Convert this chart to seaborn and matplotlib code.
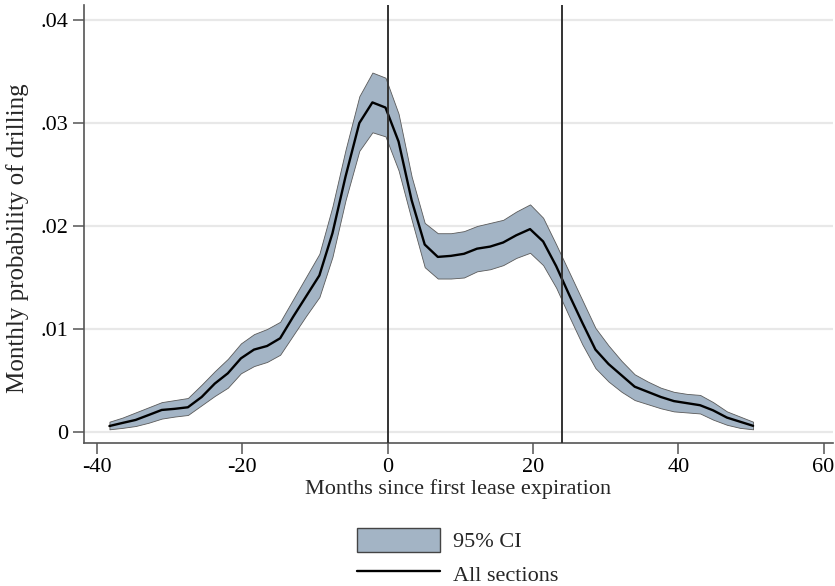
import matplotlib
matplotlib.use("Agg")
import matplotlib.pyplot as plt
import seaborn as sns
import pandas as pd
from matplotlib.patches import Patch
from matplotlib.lines import Line2D

# Months relative to first lease expiration (local polynomial grid points)
months = [-38.3, -36.5, -34.7, -32.9, -31.1, -29.3, -27.5, -25.6, -23.8, -22.0,
          -20.2, -18.4, -16.6, -14.8, -13.0, -11.2, -9.4, -7.6, -5.8, -3.9,
          -2.1, -0.3, 1.5, 3.3, 5.1, 6.9, 8.7, 10.5, 12.3, 14.1,
          15.9, 17.7, 19.6, 21.4, 23.2, 25.0, 26.8, 28.6, 30.4, 32.2,
          34.0, 35.8, 37.6, 39.4, 41.2, 43.0, 44.8, 46.7, 48.5, 50.3]

# Smoothed monthly probability of drilling, all sections
prob = [0.00058, 0.00088, 0.00117, 0.00165, 0.00214, 0.00225, 0.0024, 0.0034, 0.0047, 0.0057,
        0.00715, 0.0080, 0.00835, 0.0091, 0.0112, 0.0132, 0.0152, 0.0193, 0.0248, 0.0300,
        0.0320, 0.0315, 0.0282, 0.0225, 0.0182, 0.0170, 0.0171, 0.0173, 0.0178, 0.0180,
        0.0184, 0.0191, 0.0197, 0.0185, 0.0161, 0.0133, 0.0106, 0.0080, 0.0066, 0.0055,
        0.0044, 0.0039, 0.0034, 0.0030, 0.0028, 0.0026, 0.0021, 0.0014, 0.0010, 0.0006]

# 95% confidence interval bounds
ci_upper = [0.0010, 0.0014, 0.0019, 0.0024, 0.0029, 0.0031, 0.0033, 0.0046, 0.0059, 0.0071,
            0.0086, 0.0095, 0.0100, 0.0107, 0.0129, 0.0151, 0.0173, 0.0219, 0.0274, 0.0326,
            0.0349, 0.0344, 0.0309, 0.0248, 0.0203, 0.0193, 0.0193, 0.0195, 0.0200, 0.0203,
            0.0206, 0.0214, 0.0221, 0.0208, 0.0182, 0.0155, 0.0128, 0.0101, 0.0084, 0.0069,
            0.0056, 0.0049, 0.0043, 0.0039, 0.0037, 0.0036, 0.0029, 0.0020, 0.0015, 0.0010]
ci_lower = [0.00026, 0.0004, 0.00058, 0.0009, 0.0013, 0.0015, 0.00165, 0.0026, 0.0035, 0.0043,
            0.0057, 0.0064, 0.0068, 0.0075, 0.0094, 0.0113, 0.0131, 0.0170, 0.0225, 0.0273,
            0.0291, 0.0287, 0.0254, 0.0206, 0.0160, 0.0149, 0.0149, 0.0150, 0.0156, 0.0158,
            0.0162, 0.0169, 0.0174, 0.0162, 0.0140, 0.0112, 0.0085, 0.0062, 0.0049, 0.0039,
            0.0031, 0.0027, 0.0023, 0.0020, 0.0019, 0.0018, 0.0012, 0.0007, 0.0004, 0.00026]

# Reference lines: first lease expiration and two years later
ref_months = [0, 24]

x_ticks = [-40, -20, 0, 20, 40, 60]
y_ticks = [0, 0.01, 0.02, 0.03, 0.04]
y_tick_labels = ["0", ".01", ".02", ".03", ".04"]

df = pd.DataFrame({"month": months, "prob": prob, "lo": ci_lower, "hi": ci_upper})

sns.set_theme(style="white")
plt.rcParams["font.family"] = ["Liberation Serif", "DejaVu Serif"]

band_color = "#a3b4c5"

fig = plt.figure(figsize=(8.35, 5.86), dpi=100)
ax = fig.add_axes([0.1006, 0.244, 0.8970, 0.7475])

for yt in y_ticks:
    ax.axhline(yt, color="#e8e8e8", lw=1.6, zorder=0)

ax.fill_between(df["month"], df["lo"], df["hi"], color=band_color,
                edgecolor="#5a5a5a", linewidth=0.6, zorder=2)
sns.lineplot(data=df, x="month", y="prob", color="black", lw=1.7, ax=ax,
             zorder=3, legend=False)

for rm in ref_months:
    ax.axvline(rm, color="#333333", lw=1.4, zorder=4)

ax.set_xlim(-41.8, 61.3)
ax.set_ylim(-0.00107, 0.04146)
ax.set_xticks(x_ticks)
ax.set_xticklabels([str(v) for v in x_ticks])
ax.set_yticks(y_ticks)
ax.set_yticklabels(y_tick_labels)

for side in ["top", "right"]:
    ax.spines[side].set_visible(False)
for side in ["left", "bottom"]:
    ax.spines[side].set_color("#555555")
    ax.spines[side].set_linewidth(1.2)

ax.tick_params(axis="both", which="major", direction="out", length=8,
               width=1.1, color="#555555", labelsize=16, labelcolor="black",
               left=True, bottom=True, pad=3)

ax.set_xlabel("Months since first lease expiration", fontsize=16, labelpad=1)
ax.set_ylabel("Monthly probability of drilling", fontsize=18)
ax.yaxis.set_label_coords(-0.074, 0.468)

handles = [Patch(facecolor=band_color, edgecolor="#444444", linewidth=1.0),
           Line2D([0], [0], color="black", lw=1.7)]
labels = ["95% CI", "All sections"]
fig.legend(handles, labels, loc="upper center", bbox_to_anchor=(0.548, 0.118),
           ncol=1, frameon=False, fontsize=16, handlelength=3.74,
           handleheight=1.26, handletextpad=0.55, labelspacing=0.42,
           borderpad=0.0)

fig.savefig("out.png", dpi=100)
